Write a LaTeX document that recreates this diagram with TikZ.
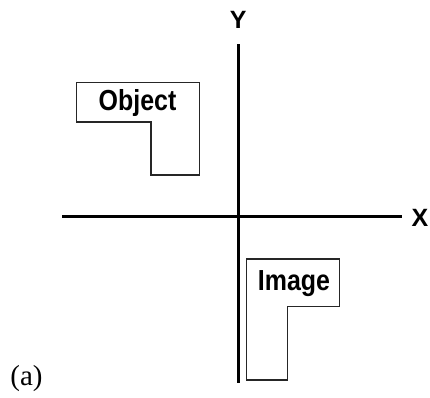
\documentclass[tikz,border=0pt]{standalone}
\usepackage{fontspec}
\setmainfont{Liberation Serif}
\newfontfamily\labfont{Liberation Sans}
\begin{document}
\begin{tikzpicture}[x=1pt,y=-1pt,
  axis/.style={line width=3pt,black},
  outline/.style={line width=1.4pt,black!85},
  boxtext/.style={font=\labfont\bfseries\fontsize{29}{29}\selectfont,inner sep=0pt,xscale=0.86},
  axtext/.style={font=\labfont\bfseries\fontsize{25}{25}\selectfont,inner sep=0pt}]
\useasboundingbox (0,0) rectangle (430,397);
% axes
\coordinate (ytop) at (238.3,44);
\coordinate (ybot) at (238.3,383);
\coordinate (xl) at (62,216.5);
\coordinate (xr) at (402,216.5);
\draw[axis] (ytop) -- (ybot);
\draw[axis] (xl) -- (xr);
\node[axtext] (ylab) at (238.3,20) {Y};
\node[axtext] (xlab) at (420,217.5) {X};
% object shape
\draw[outline] (76.7,82.7) -- (199.3,82.7) -- (199.3,175) -- (151,175) -- (151,122) -- (76.7,122) -- cycle;
\node[boxtext] (obj) at (137.5,103) {Object};
% image shape
\draw[outline] (246.7,259) -- (339.3,259) -- (339.3,306.7) -- (287.3,306.7) -- (287.3,380) -- (246.7,380) -- cycle;
\node[boxtext] (img) at (294,283.5) {Image};
% caption
\node[font=\fontsize{29}{29}\selectfont,inner sep=0pt] (cap) at (26.5,379) {(a)};
\end{tikzpicture}
\end{document}
